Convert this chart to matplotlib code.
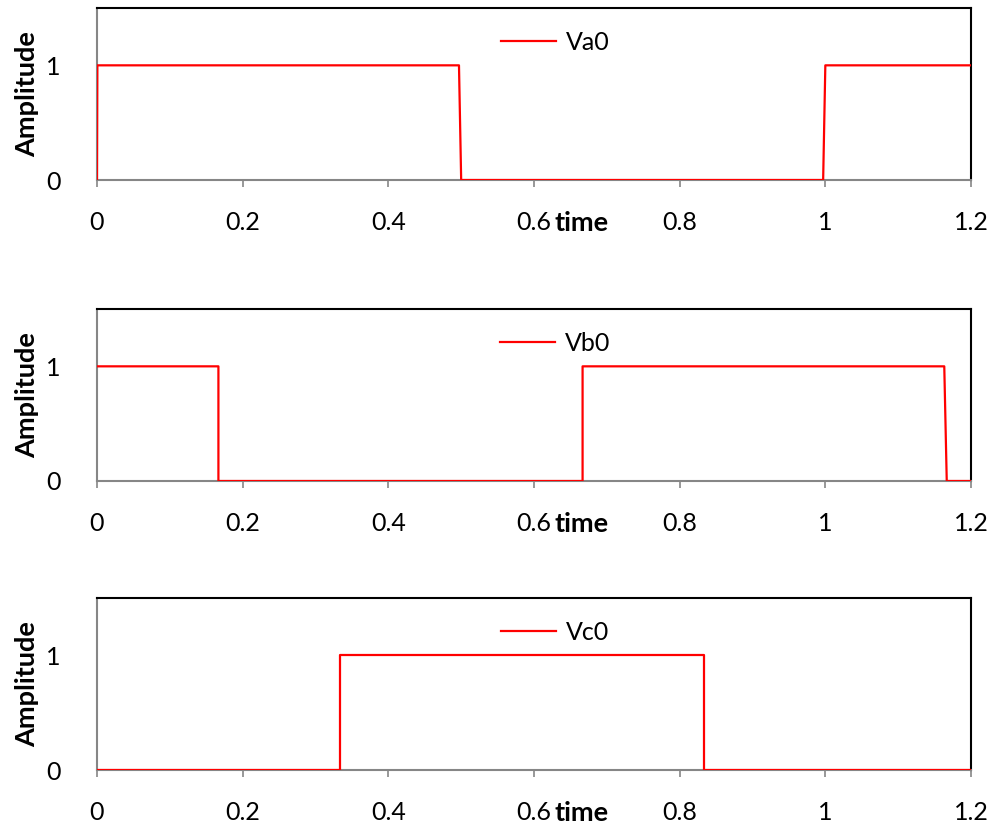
import matplotlib
matplotlib.use('Agg')
import matplotlib.pyplot as plt
import matplotlib.transforms as mtransforms

plt.rcParams['font.family'] = ['Lato', 'DejaVu Sans']

# sampled switching signals (time, value)
va_t = [0, 0.0005, 0.497, 0.5, 0.997, 1.0, 1.2]
va_v = [0, 1, 1, 0, 0, 1, 1]
vb_t = [0, 0.1667, 0.1667, 0.6667, 0.6667, 1.1633, 1.1667, 1.2]
vb_v = [1, 1, 0, 0, 1, 1, 0, 0]
vc_t = [0, 0.3333, 0.3333, 0.8333, 0.8333, 1.2]
vc_v = [0, 0, 1, 1, 0, 0]

series = [(va_t, va_v, 'Va0'), (vb_t, vb_v, 'Vb0'), (vc_t, vc_v, 'Vc0')]
x_ticks = [0, 0.2, 0.4, 0.6, 0.8, 1, 1.2]
x_tick_labels = ['0', '0.2', '0.4', '0.6', '0.8', '1', '1.2']
y_ticks = [0, 1]

fig = plt.figure(figsize=(9.93, 8.24), dpi=100)
tops = [8, 309, 598]
bottoms = [180, 481, 770]
grey = '#868686'

for (t, v, name), top, bot in zip(series, tops, bottoms):
    ax = fig.add_axes([97 / 993, 1 - bot / 824, 874 / 993, (bot - top) / 824])
    ax.plot(t, v, color='#ff0000', lw=1.6, label=name, zorder=3)
    ax.set_xlim(0, 1.2)
    ax.set_ylim(0, 1.5)
    ax.set_xticks(x_ticks)
    ax.set_xticklabels(x_tick_labels)
    ax.set_yticks(y_ticks)
    ax.tick_params(axis='x', length=5, width=1.2, color=grey, pad=17, labelsize=18)
    ax.tick_params(axis='y', length=0, pad=26, labelsize=18)
    for s in ['left', 'bottom']:
        ax.spines[s].set_color(grey)
        ax.spines[s].set_linewidth(1.5)
    for s in ['top', 'right']:
        ax.spines[s].set_color('black')
        ax.spines[s].set_linewidth(1.5)
    ax.text(-0.080, 0.5, 'Amplitude', transform=ax.transAxes, rotation=90,
            ha='center', va='center', fontsize=19.5, fontweight='bold')
    trans = mtransforms.blended_transform_factory(ax.transData, ax.transAxes)
    ax.text(0.628, -0.298, 'time', transform=trans, ha='left', va='baseline',
            fontsize=19.5, fontweight='bold')
    ax.legend(loc='center', bbox_to_anchor=(0.524, 0.80), frameon=False,
              fontsize=18, handlelength=2.2, handletextpad=0.4)

fig.savefig('out.png', dpi=100)
